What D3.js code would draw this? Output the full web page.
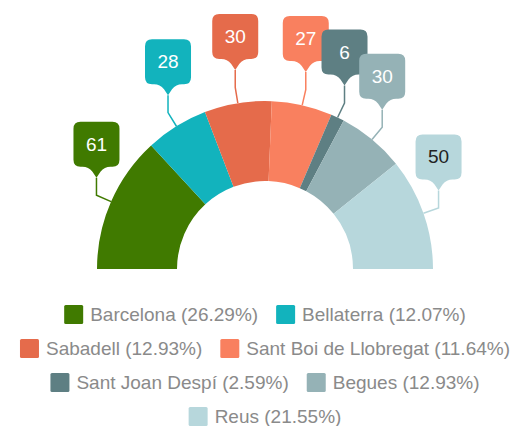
<!DOCTYPE html>
<html>
<head>
<meta charset="utf-8">
<script src="https://cdn.jsdelivr.net/npm/d3@7"></script>
<style>
html,body{margin:0;padding:0;background:#fff;}
svg{display:block;}
svg text{font-family:"Liberation Sans","Arial",sans-serif;}
</style>
</head>
<body>
<svg id="chart" width="512" height="426"></svg>
<script>
const categories = ["Barcelona","Bellaterra","Sabadell","Sant Boi de Llobregat","Sant Joan Despí","Begues","Reus"];
const values = [61, 28, 30, 27, 6, 30, 50];
const colors = ["#407a00","#12b3bd","#e56b4b","#f9805f","#5e7f83","#95b2b6","#b7d7dc"];
const labelTextColors = ["#fff","#fff","#fff","#fff","#fff","#fff","#222"];

const W = 512, H = 426;
const cx = 265, cy = 269, R = 168, r0 = 88;
const svg = d3.select("#chart");

const total = d3.sum(values);
const data = categories.map((c,i)=>({name:c, value:values[i], color:colors[i], tcolor:labelTextColors[i]}));

const pie = d3.pie().value(d=>d.value).sort(null).startAngle(-Math.PI/2).endAngle(Math.PI/2);
const arcs = pie(data);
const arc = d3.arc().innerRadius(r0).outerRadius(R);

const g = svg.append("g").attr("transform",`translate(${cx},${cy})`);
g.selectAll("path.slice").data(arcs).join("path")
  .attr("class","slice")
  .attr("d",arc)
  .attr("fill",d=>d.data.color);

// labels
const radialLen = 16, vertLen = 17.5;
function bubblePath(){
  return "M0,0 L-4,-6 Q-8,-11 -14,-11 L-16,-11 Q-23,-11 -23,-18 L-23,-49 Q-23,-56 -16,-56 L16,-56 Q23,-56 23,-49 L23,-18 Q23,-11 16,-11 L14,-11 Q8,-11 4,-6 Z";
}
arcs.forEach(d=>{
  const a = (d.startAngle+d.endAngle)/2;
  const x0 = R*Math.sin(a), y0 = -R*Math.cos(a);
  const x1 = (R+radialLen)*Math.sin(a), y1 = -(R+radialLen)*Math.cos(a);
  const x2 = x1, y2 = y1 - vertLen;
  g.append("polyline")
    .attr("points",`${x0},${y0} ${x1},${y1} ${x2},${y2}`)
    .attr("fill","none").attr("stroke",d.data.color).attr("stroke-width",1.5);
  const lg = g.append("g").attr("transform",`translate(${x2},${y2})`);
  lg.append("path").attr("d",bubblePath()).attr("fill",d.data.color);
  lg.append("text").attr("x",0).attr("y",-33.5).attr("text-anchor","middle")
    .attr("dominant-baseline","central")
    .attr("font-size",19).attr("fill",d.data.tcolor).text(d.data.value);
});

// legend
const fmt = d3.format(".2f");
const legendFont = 19, sq = 19, gapText = 7, gapItem = 18, maxW = 500;
const meas = svg.append("text").attr("font-size",legendFont).attr("visibility","hidden");
const items = data.map(d=>{
  const label = `${d.name} (${fmt(d.value/total*100)}%)`;
  meas.text(label);
  const tw = meas.node().getComputedTextLength();
  return {label, color:d.color, w: sq+gapText+tw};
});
meas.remove();
const rows = [];
let cur = [], curW = 0;
items.forEach(it=>{
  const add = cur.length ? gapItem + it.w : it.w;
  if (cur.length && curW + add > maxW){ rows.push({items:cur,w:curW}); cur=[it]; curW=it.w; }
  else { cur.push(it); curW += add; }
});
if (cur.length) rows.push({items:cur,w:curW});
const rowY0 = 314.5, rowStep = 34;
rows.forEach((row,ri)=>{
  let x = cx - row.w/2;
  const y = rowY0 + ri*rowStep;
  row.items.forEach(it=>{
    svg.append("rect").attr("x",x).attr("y",y-sq/2).attr("width",sq).attr("height",sq)
      .attr("rx",1.5).attr("fill",it.color);
    svg.append("text").attr("x",x+sq+gapText).attr("y",y).attr("dominant-baseline","central")
      .attr("font-size",legendFont).attr("fill","#8a8a8a").text(it.label);
    x += it.w + gapItem;
  });
});
</script>
</body>
</html>
